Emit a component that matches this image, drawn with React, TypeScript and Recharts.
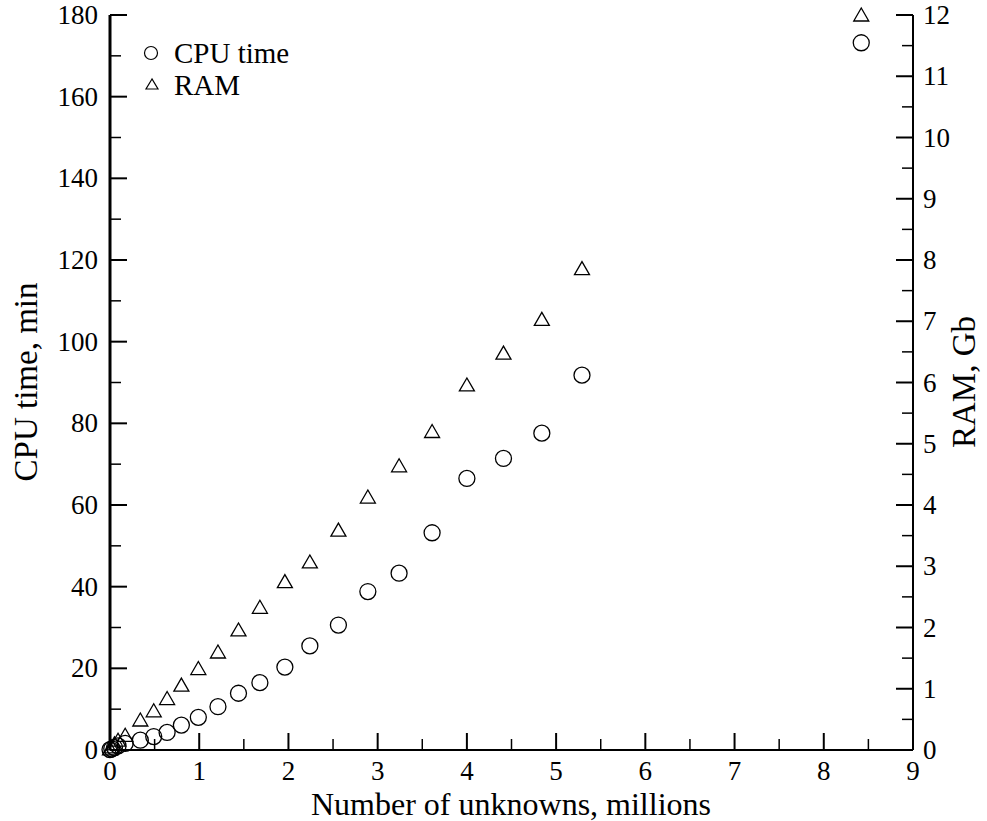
import { ScatterChart, Scatter, XAxis, YAxis, Legend } from 'recharts';

// number of unknowns, millions (shared by both series)
const unknowns = [0.0, 0.02, 0.05, 0.09, 0.17, 0.34, 0.49, 0.64, 0.8, 0.99, 1.21, 1.44, 1.68, 1.96, 2.24, 2.56, 2.89, 3.24, 3.61, 4.0, 4.41, 4.84, 5.29, 8.42];
const cpuMinutes = [0.1, 0.3, 0.6, 1.0, 1.6, 2.4, 3.3, 4.3, 6.1, 8.0, 10.6, 13.9, 16.5, 20.3, 25.5, 30.6, 38.8, 43.3, 53.2, 66.5, 71.4, 77.6, 91.8, 173.2];
const ramGb = [0.02, 0.05, 0.1, 0.16, 0.24, 0.49, 0.64, 0.84, 1.06, 1.33, 1.6, 1.96, 2.33, 2.75, 3.07, 3.59, 4.13, 4.64, 5.2, 5.96, 6.48, 7.03, 7.86, 12.0];

const xMajor = [0, 1, 2, 3, 4, 5, 6, 7, 8, 9];
const xTicks = [0, 0.5, 1, 1.5, 2, 2.5, 3, 3.5, 4, 4.5, 5, 5.5, 6, 6.5, 7, 7.5, 8, 8.5, 9];
const cpuMajor = [0, 20, 40, 60, 80, 100, 120, 140, 160, 180];
const cpuTicks = [0, 10, 20, 30, 40, 50, 60, 70, 80, 90, 100, 110, 120, 130, 140, 150, 160, 170, 180];
const ramMajor = [0, 1, 2, 3, 4, 5, 6, 7, 8, 9, 10, 11, 12];
const ramTicks = [0, 0.5, 1, 1.5, 2, 2.5, 3, 3.5, 4, 4.5, 5, 5.5, 6, 6.5, 7, 7.5, 8, 8.5, 9, 9.5, 10, 10.5, 11, 11.5, 12];

const cpuData = unknowns.map((x, i) => ({ x, y: cpuMinutes[i] }));
const ramData = unknowns.map((x, i) => ({ x, y: ramGb[i] }));

const FONT = '"Liberation Serif", "Times New Roman", serif';
const MAJOR = 17;
const MINOR = 11;

function XTick({ x, y, payload }: any) {
  const major = xMajor.includes(payload.value);
  return (
    <g>
      <line x1={x} x2={x} y1={y} y2={y - (major ? MAJOR : MINOR)} stroke="#000" strokeWidth={major ? 2 : 1.5} />
      {major && (
        <text x={x} y={y + 21} textAnchor="middle" dominantBaseline="central" fontFamily={FONT} fontSize={27} fill="#000">
          {payload.value}
        </text>
      )}
    </g>
  );
}

function CpuTick({ x, y, payload }: any) {
  const major = cpuMajor.includes(payload.value);
  return (
    <g>
      <line x1={x} x2={x + (major ? MAJOR : MINOR)} y1={y} y2={y} stroke="#000" strokeWidth={major ? 2 : 1.5} />
      {major && (
        <text x={x - 12} y={y} textAnchor="end" dominantBaseline="central" fontFamily={FONT} fontSize={27} fill="#000">
          {payload.value}
        </text>
      )}
    </g>
  );
}

function RamTick({ x, y, payload }: any) {
  const major = ramMajor.includes(payload.value);
  return (
    <g>
      <line x1={x} x2={x - (major ? MAJOR : MINOR)} y1={y} y2={y} stroke="#000" strokeWidth={major ? 2 : 1.5} />
      {major && (
        <text x={x + 10} y={y} textAnchor="start" dominantBaseline="central" fontFamily={FONT} fontSize={27} fill="#000">
          {payload.value}
        </text>
      )}
    </g>
  );
}

const Circle = ({ cx, cy }: any) => <circle cx={cx} cy={cy} r={8} fill="none" stroke="#000" strokeWidth={1.3} />;
const Triangle = ({ cx, cy }: any) => (
  <polygon points={`${cx},${cy - 7} ${cx - 7.5},${cy + 6} ${cx + 7.5},${cy + 6}`} fill="none" stroke="#000" strokeWidth={1.3} />
);

const XTitle = () => (
  <text x={511} y={804} textAnchor="middle" dominantBaseline="central" fontFamily={FONT} fontSize={32} fill="#000">
    Number of unknowns, millions
  </text>
);
const CpuTitle = () => (
  <text x={26} y={382} transform="rotate(-90 26 382)" textAnchor="middle" dominantBaseline="central" fontFamily={FONT} fontSize={33} fill="#000">
    CPU time, min
  </text>
);
const RamTitle = () => (
  <text x={964} y={382} transform="rotate(-90 964 382)" textAnchor="middle" dominantBaseline="central" fontFamily={FONT} fontSize={33} fill="#000">
    RAM, Gb
  </text>
);

function LegendBox() {
  const row = { display: 'flex', alignItems: 'center', height: 32 } as const;
  return (
    <div style={{ fontFamily: FONT, fontSize: 29, color: '#000', lineHeight: '32px' }}>
      <div style={row}>
        <svg width={24} height={20}><circle cx={11} cy={10} r={6.5} fill="none" stroke="#000" strokeWidth={1.2} /></svg>
        <span style={{ marginLeft: 10 }}>CPU time</span>
      </div>
      <div style={row}>
        <svg width={24} height={20}><polygon points="12,4 6,14 18,14" fill="none" stroke="#000" strokeWidth={1.2} /></svg>
        <span style={{ marginLeft: 10 }}>RAM</span>
      </div>
    </div>
  );
}

export default function App() {
  return (
    <div style={{ position: 'absolute', left: 0, top: 0, background: '#fff' }}>
      <ScatterChart width={987} height={821} margin={{ top: 15, right: 0, bottom: 0, left: 0 }}>
        <XAxis
          type="number" dataKey="x" domain={[0, 9]} ticks={xTicks} interval={0}
          height={71} tickSize={0} tickMargin={0} tickLine={false} tick={<XTick />}
          axisLine={{ stroke: '#000', strokeWidth: 2 }}
          label={{ content: XTitle }}
        />
        <YAxis
          yAxisId="cpu" type="number" dataKey="y" domain={[0, 180]} ticks={cpuTicks} interval={0}
          width={110} tickSize={0} tickMargin={0} tickLine={false} tick={<CpuTick />}
          axisLine={{ stroke: '#000', strokeWidth: 3 }}
          label={{ content: CpuTitle }}
        />
        <YAxis
          yAxisId="ram" orientation="right" type="number" dataKey="y" domain={[0, 12]} ticks={ramTicks} interval={0}
          width={74} tickSize={0} tickMargin={0} tickLine={false} tick={<RamTick />}
          axisLine={{ stroke: '#000', strokeWidth: 2 }}
          label={{ content: RamTitle }}
        />
        <Legend
          layout="vertical" align="center" verticalAlign="middle"
          content={<LegendBox />}
          wrapperStyle={{ position: 'absolute', left: 140, top: 37, width: 'auto', height: 'auto' }}
        />
        <Scatter name="CPU time" yAxisId="cpu" data={cpuData} shape={<Circle />} isAnimationActive={false} />
        <Scatter name="RAM" yAxisId="ram" data={ramData} shape={<Triangle />} isAnimationActive={false} />
      </ScatterChart>
    </div>
  );
}
